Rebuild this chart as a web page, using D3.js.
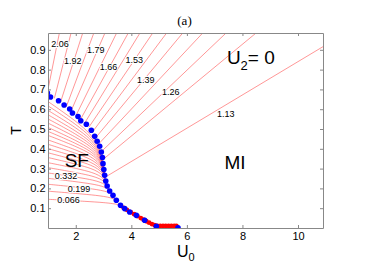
<!DOCTYPE html>
<html>
<head>
<meta charset="utf-8">
<script src="https://d3js.org/d3.v7.min.js"></script>
<style>
  body { margin: 0; background: #fff; }
  text { font-family: "Liberation Sans", Arial, sans-serif; }
</style>
</head>
<body>
<div id="my_dataviz"></div>
<script>
// phase boundary, blue markers [U0, T]
var blueDots = [
  [0.98,0.682],[1.09,0.662],[1.38,0.643],[1.58,0.621],[1.78,0.601],[1.88,0.581],
  [2.08,0.563],[2.18,0.542],[2.38,0.524],[2.56,0.494],[2.68,0.463],[2.77,0.438],
  [2.86,0.413],[2.92,0.384],[2.96,0.356],[2.98,0.325],[3.01,0.295],[3.04,0.266],
  [3.08,0.237],[3.13,0.212],[3.22,0.187],[3.34,0.165],[3.46,0.140],[3.61,0.115],
  [3.76,0.098],[3.94,0.081],[4.18,0.064],[4.48,0.039],[4.90,0.009],[5.68,0.001]
];

// red markers along the low-T part of the boundary
var redDots = [
  [3.62,0.112],[3.72,0.102],[3.84,0.092],[3.98,0.080],[4.10,0.070],[4.22,0.060],
  [4.34,0.050],[4.44,0.042],[4.54,0.034],[4.64,0.027],[4.74,0.020],[4.84,0.014],
  [4.94,0.011],[5.04,0.011],[5.14,0.011],[5.24,0.011],[5.34,0.011],[5.44,0.011],
  [5.54,0.011],[5.62,0.011]
];

// straight contours in the MI region: [U start, T start, U end, T end]
var rayLines = [
  [1.00,0.700, 1.41,0.985],
  [1.23,0.655, 1.83,0.985],
  [1.45,0.635, 2.25,0.985],
  [1.66,0.613, 2.65,0.985],
  [1.83,0.591, 3.05,0.985],
  [2.01,0.569, 3.47,0.985],
  [2.16,0.546, 3.89,0.985],
  [2.32,0.530, 4.31,0.985],
  [2.47,0.509, 4.77,0.985],
  [2.60,0.485, 5.27,0.985],
  [2.71,0.455, 5.85,0.985],
  [2.82,0.424, 6.57,0.985],
  [2.92,0.386, 7.41,0.985],
  [2.97,0.345, 8.49,0.985],
  [3.05,0.256, 10.9,0.916]
];

// curved contours in the SF region, each a list of [U0, T]
var arcLines = [
  [[1,0.145],[2.323,0.1347],[2.985,0.1284],[3.317,0.1233],[3.511,0.1184],[3.619,0.1129],[3.70,0.107]],
  [[1,0.186],[2.225,0.1717],[2.838,0.1628],[3.145,0.1558],[3.325,0.1489],[3.425,0.1412],[3.50,0.133]],
  [[1,0.221],[2.156,0.2045],[2.735,0.1943],[3.025,0.1862],[3.195,0.1783],[3.289,0.1694],[3.36,0.160]],
  [[1,0.251],[2.107,0.2318],[2.661,0.2199],[2.939,0.2105],[3.102,0.2013],[3.192,0.1909],[3.26,0.180]],
  [[1,0.278],[2.073,0.2556],[2.610,0.2417],[2.879,0.2307],[3.037,0.2199],[3.124,0.2078],[3.19,0.195]],
  [[1,0.305],[2.054,0.2785],[2.580,0.2621],[2.845,0.2491],[3.000,0.2364],[3.086,0.2221],[3.15,0.207]],
  [[1,0.330],[2.039,0.2998],[2.558,0.2810],[2.819,0.2662],[2.972,0.2516],[3.056,0.2352],[3.12,0.218]],
  [[1,0.356],[2.029,0.3214],[2.544,0.3000],[2.802,0.2830],[2.953,0.2664],[3.037,0.2477],[3.10,0.228]],
  [[1,0.380],[2.019,0.3414],[2.529,0.3174],[2.785,0.2985],[2.934,0.2799],[3.018,0.2590],[3.08,0.237]],
  [[1,0.401],[2.014,0.3586],[2.521,0.3323],[2.776,0.3115],[2.925,0.2911],[3.008,0.2682],[3.07,0.244]],
  [[1,0.423],[2.009,0.3763],[2.514,0.3473],[2.767,0.3244],[2.916,0.3019],[2.998,0.2766],[3.06,0.250]],
  [[1,0.445],[2.007,0.3934],[2.510,0.3614],[2.763,0.3361],[2.911,0.3113],[2.993,0.2834],[3.055,0.254]],
  [[1,0.468],[2.005,0.4110],[2.507,0.3757],[2.759,0.3477],[2.907,0.3203],[2.989,0.2895],[3.05,0.257]],
  [[1,0.488],[2.004,0.4262],[2.505,0.3878],[2.757,0.3575],[2.905,0.3277],[2.987,0.2943],[3.048,0.259]],
  [[1,0.508],[2.003,0.4413],[2.504,0.3999],[2.756,0.3672],[2.903,0.3351],[2.985,0.2990],[3.046,0.261]],
  [[1,0.530],[2.002,0.4576],[2.502,0.4128],[2.754,0.3772],[2.901,0.3424],[2.983,0.3033],[3.044,0.262]],
  [[1,0.551],[2.001,0.4732],[2.501,0.4250],[2.752,0.3868],[2.899,0.3494],[2.981,0.3074],[3.042,0.263]],
  [[1,0.572],[2.000,0.4888],[2.500,0.4373],[2.751,0.3964],[2.898,0.3564],[2.980,0.3114],[3.041,0.264]],
  [[1,0.594],[2.000,0.5052],[2.499,0.4501],[2.751,0.4065],[2.897,0.3637],[2.979,0.3157],[3.040,0.265]],
  [[1,0.617],[2.000,0.5221],[2.499,0.4632],[2.751,0.4166],[2.897,0.3710],[2.979,0.3196],[3.040,0.2655]],
  [[1,0.639],[2.000,0.5383],[2.499,0.4758],[2.751,0.4264],[2.897,0.3779],[2.979,0.3234],[3.040,0.266]]
];

// contour labels [text, U0, T]
var contourLabels = [
  ["2.06",1.43,0.930],["1.92",1.89,0.845],["1.79",2.72,0.898],["1.66",3.18,0.815],
  ["1.53",4.11,0.848],["1.39",4.52,0.750],["1.26",5.42,0.688],["1.13",7.40,0.578],
  ["0.332",1.65,0.265],["0.199",2.12,0.197],["0.066",1.74,0.140]
];

var xTicks = [2, 4, 6, 8, 10];
var yTicks = [0.1, 0.2, 0.3, 0.4, 0.5, 0.6, 0.7, 0.8, 0.9];

var margin = {top: 33, right: 51, bottom: 35, left: 48},
    width = 374 - margin.left - margin.right,
    height = 263 - margin.top - margin.bottom;

var svg = d3.select("#my_dataviz")
  .append("svg")
    .attr("width", width + margin.left + margin.right)
    .attr("height", height + margin.top + margin.bottom)
  .append("g")
    .attr("transform", "translate(" + margin.left + "," + margin.top + ")");

var x = d3.scaleLinear().domain([1, 10.9]).range([0, width]);
var y = d3.scaleLinear().domain([0, 0.985]).range([height, 0]);

svg.append("clipPath").attr("id", "clip")
  .append("rect").attr("width", width).attr("height", height);

var plot = svg.append("g").attr("clip-path", "url(#clip)");

var lineColor = "#ff5050";

// contour lines
plot.selectAll(".ray")
  .data(rayLines)
  .enter().append("line")
    .attr("x1", function(d){ return x(d[0]) })
    .attr("y1", function(d){ return y(d[1]) })
    .attr("x2", function(d){ return x(d[2]) })
    .attr("y2", function(d){ return y(d[3]) })
    .attr("stroke", lineColor)
    .attr("stroke-width", 0.6);

var arcPath = d3.line()
  .x(function(d){ return x(d[0]) })
  .y(function(d){ return y(d[1]) })
  .curve(d3.curveCatmullRom);

plot.selectAll(".arc")
  .data(arcLines)
  .enter().append("path")
    .attr("d", arcPath)
    .attr("fill", "none")
    .attr("stroke", lineColor)
    .attr("stroke-width", 0.6);

// boundary markers
plot.selectAll(".red")
  .data(redDots)
  .enter().append("circle")
    .attr("cx", function(d){ return x(d[0]) })
    .attr("cy", function(d){ return y(d[1]) })
    .attr("r", 2.4)
    .attr("fill", "#ff0000");

plot.selectAll(".blue")
  .data(blueDots)
  .enter().append("circle")
    .attr("cx", function(d){ return x(d[0]) })
    .attr("cy", function(d){ return y(d[1]) })
    .attr("r", 2.8)
    .attr("fill", "#0000ff");

// contour labels with white halo to break the lines
svg.selectAll(".clab")
  .data(contourLabels)
  .enter().append("text")
    .attr("x", function(d){ return x(d[1]) })
    .attr("y", function(d){ return y(d[2]) })
    .attr("dy", "0.35em")
    .attr("text-anchor", "middle")
    .style("font-size", "9px")
    .style("paint-order", "stroke")
    .attr("stroke", "#fff")
    .attr("stroke-width", 2)
    .attr("fill", "#000")
    .text(function(d){ return d[0] });

// axes, ticks pointing inward
var axisColor = "#888";
function styleAxis(g) {
  g.select(".domain").attr("stroke", axisColor);
  g.selectAll(".tick line").attr("stroke", axisColor);
  g.selectAll("text").attr("fill", "#000").style("font-size", "11px")
    .style("font-family", "'Liberation Sans', Arial, sans-serif");
}

svg.append("g")
  .attr("transform", "translate(0," + height + ")")
  .call(d3.axisBottom(x).tickValues(xTicks).tickSize(-3).tickSizeOuter(0).tickPadding(4))
  .call(styleAxis);

svg.append("g")
  .call(d3.axisTop(x).tickValues(xTicks).tickSize(-3).tickSizeOuter(0).tickFormat(""))
  .call(styleAxis);

svg.append("g")
  .call(d3.axisLeft(y).tickValues(yTicks).tickSize(-3).tickSizeOuter(0).tickPadding(2.5)
    .tickFormat(d3.format(".1f")))
  .call(styleAxis);

svg.append("g")
  .attr("transform", "translate(" + width + ",0)")
  .call(d3.axisRight(y).tickValues(yTicks).tickSize(-3).tickSizeOuter(0).tickFormat(""))
  .call(styleAxis);

// region labels
svg.append("text").attr("x", x(1.6)).attr("y", y(0.308))
  .style("font-size", "19px").text("SF");
svg.append("text").attr("x", x(7.35)).attr("y", y(0.297))
  .style("font-size", "19px").text("MI");

var u2 = svg.append("text").attr("x", x(7.44)).attr("y", y(0.830))
  .style("font-size", "19px");
u2.append("tspan").text("U");
u2.append("tspan").attr("dy", 6).style("font-size", "13px").text("2");
u2.append("tspan").attr("dy", -6).text("= 0");

// title and axis labels
svg.append("text")
  .attr("x", width / 2 - 1).attr("y", 25 - margin.top)
  .attr("text-anchor", "middle")
  .style("font-family", "'Liberation Serif', 'Times New Roman', serif")
  .style("font-size", "13px")
  .text("(a)");

var ul = svg.append("text")
  .attr("x", 177 - margin.left).attr("y", 257 - margin.top)
  .style("font-size", "16px");
ul.append("tspan").text("U");
ul.append("tspan").attr("dy", 4).style("font-size", "11px").text("0");

svg.append("text")
  .attr("transform", "translate(" + (20.5 - margin.left) + "," + (height / 2) + ") rotate(-90)")
  .attr("text-anchor", "middle")
  .style("font-size", "14px")
  .text("T");
</script>
</body>
</html>
